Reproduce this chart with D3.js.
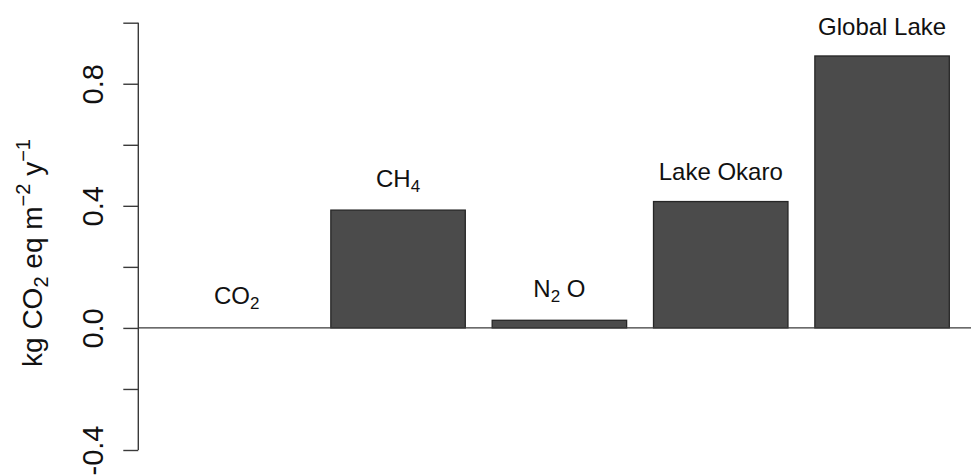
<!DOCTYPE html>
<html>
<head>
<meta charset="utf-8">
<script src="https://cdn.jsdelivr.net/npm/d3@7/dist/d3.min.js"></script>
<style>
  html, body { margin: 0; padding: 0; background: #fff; }
  svg { display: block; font-family: "Liberation Sans", Arial, Helvetica, sans-serif; }
</style>
</head>
<body>
<svg id="chart" width="971" height="475"></svg>
<script>
// Greenhouse-gas emissions per unit area (kg CO2 eq m^-2 y^-1)
const categories = ["CO2", "CH4", "N2O", "Lake Okaro", "Global Lake"];
const values = [0.0, 0.386, 0.025, 0.414, 0.891];
// label parts: [main text, subscript, trailing text]
const labelParts = [
  ["CO", "2", ""],
  ["CH", "4", ""],
  ["N", "2", " O"],
  ["Lake Okaro", "", ""],
  ["Global Lake", "", ""]
];
const yTicks = [-0.4, -0.2, 0.0, 0.2, 0.4, 0.6, 0.8, 1.0];
const yTickLabels = ["-0.4", "", "0.0", "", "0.4", "", "0.8", ""];

const svg = d3.select("#chart");
const W = 971;

// bar layout in R barplot units: width 1, space 0.2
const barWidth = 1, barSpace = 0.2;
const xLeft = i => barSpace + i * (barWidth + barSpace);
const x = d3.scaleLinear().domain([-0.032, 6.232]).range([138.3, 980.5]);
const y = d3.scaleLinear().domain([-0.4, 1.0]).range([450, 22.7]);

const ink = "#111";
const lineCol = "#3a3a3a";

// bars
svg.append("g").selectAll("rect")
  .data(values)
  .join("rect")
  .attr("x", (d, i) => x(xLeft(i)))
  .attr("width", (d, i) => x(xLeft(i) + barWidth) - x(xLeft(i)))
  .attr("y", d => y(Math.max(0, d)))
  .attr("height", d => Math.abs(y(d) - y(0)))
  .attr("fill", "#4b4b4b")
  .attr("stroke", "#262626")
  .attr("stroke-width", 1.3);

// zero reference line
svg.append("line")
  .attr("x1", x(-0.032)).attr("x2", W)
  .attr("y1", y(0)).attr("y2", y(0))
  .attr("stroke", lineCol).attr("stroke-width", 1.4);

// y axis
const yAxis = d3.axisLeft(y)
  .tickValues(yTicks)
  .tickSize(15)
  .tickSizeOuter(0)
  .tickFormat((d, i) => yTickLabels[i]);

const gy = svg.append("g")
  .attr("transform", `translate(${x(-0.032)},0)`)
  .call(yAxis);
gy.select(".domain")
  .attr("d", `M0,${y(-0.4)}V${y(1.0)}`)
  .attr("stroke", lineCol).attr("stroke-width", 1.4);
gy.selectAll(".tick line").attr("stroke", lineCol).attr("stroke-width", 1.4);
gy.selectAll(".tick text")
  .attr("x", null).attr("dy", null)
  .attr("transform", "translate(-35,0) rotate(-90)")
  .attr("text-anchor", "middle")
  .attr("font-size", 29)
  .attr("font-family", "Liberation Sans, Arial, sans-serif")
  .attr("fill", ink);

// y axis title
const title = svg.append("text")
  .attr("transform", "translate(42.3,253) rotate(-90)")
  .attr("text-anchor", "middle")
  .attr("font-size", 28)
  .attr("fill", ink);
title.append("tspan").text("kg CO");
title.append("tspan").attr("font-size", 20).attr("dy", 6).text("2");
title.append("tspan").attr("dy", -6).text(" eq m");
title.append("tspan").attr("font-size", 20).attr("dy", -12).text("\u22122");
title.append("tspan").attr("dy", 12).text("  y");
title.append("tspan").attr("font-size", 20).attr("dy", -12).text("\u22121");

// bar labels
const labels = svg.append("g").selectAll("text")
  .data(values)
  .join("text")
  .attr("x", (d, i) => x(xLeft(i) + barWidth / 2))
  .attr("y", (d, i) => y(Math.max(0, d)) - (labelParts[i][1] ? 23.5 : 21.3))
  .attr("text-anchor", "middle")
  .attr("font-size", 24)
  .attr("fill", ink);

labels.each(function(d, i) {
  const t = d3.select(this);
  const [main, sub, tail] = labelParts[i];
  t.append("tspan").text(main);
  if (sub) {
    t.append("tspan").attr("font-size", 17).attr("dy", 5).text(sub);
    if (tail) t.append("tspan").attr("dy", -5).text(tail);
  }
});
</script>
</body>
</html>
